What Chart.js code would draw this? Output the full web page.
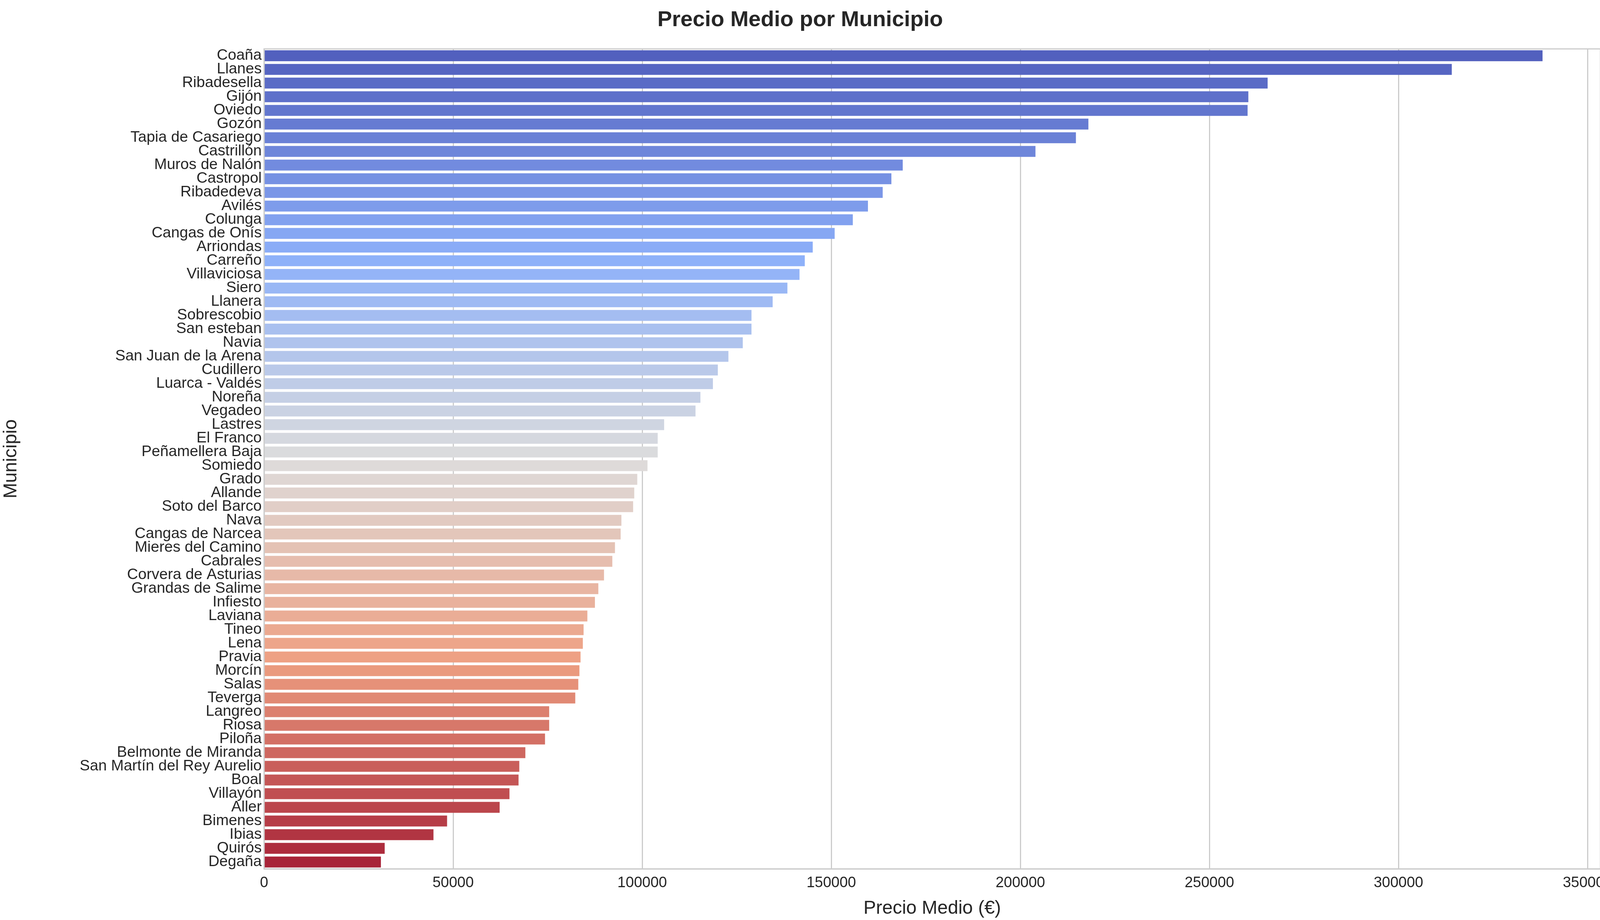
<!DOCTYPE html>
<html><head><meta charset="utf-8">
<script src="https://cdn.jsdelivr.net/npm/chart.js@4/dist/chart.umd.min.js"></script>
<style>body{margin:0;background:#fff}#w{width:4150px;height:2356px}</style>
</head><body><div id="w"><canvas id="c"></canvas></div>
<script>
const municipios=["Coaña","Llanes","Ribadesella","Gijón","Oviedo","Gozón","Tapia de Casariego","Castrillón","Muros de Nalón","Castropol","Ribadedeva","Avilés","Colunga","Cangas de Onís","Arriondas","Carreño","Villaviciosa","Siero","Llanera","Sobrescobio","San esteban","Navia","San Juan de la Arena","Cudillero","Luarca - Valdés","Noreña","Vegadeo","Lastres","El Franco","Peñamellera Baja","Somiedo","Grado","Allande","Soto del Barco","Nava","Cangas de Narcea","Mieres del Camino","Cabrales","Corvera de Asturias","Grandas de Salime","Infiesto","Laviana","Tineo","Lena","Pravia","Morcín","Salas","Teverga","Langreo","Riosa","Piloña","Belmonte de Miranda","San Martín del Rey Aurelio","Boal","Villayón","Aller","Bimenes","Ibias","Quirós","Degaña"];
const precios=[338100,314100,265400,260300,260100,218000,214700,204000,168900,165900,163600,159700,155700,150900,145100,143000,141600,138400,134500,128900,128900,126600,122800,120000,118700,115400,114100,105800,104100,104100,101400,98700,97900,97600,94500,94300,92800,92100,89900,88400,87500,85500,84500,84300,83700,83400,83100,82300,75400,75400,74300,69100,67500,67300,64900,62300,48400,44800,31900,30900];
const xTicks=[0,50000,100000,150000,200000,250000,300000,350000];
const stops=[[0,[82,96,190]],[0.25,[141,176,250]],[0.5,[221,220,220]],[0.75,[238,160,130]],[1,[168,36,56]]];
function cw(t){for(let i=1;i<stops.length;i++){if(t<=stops[i][0]){const a=stops[i-1],b=stops[i],f=(t-a[0])/(b[0]-a[0]);return 'rgb('+a[1].map((v,k)=>Math.round(v+(b[1][k]-v)*f)).join(',')+')';}}}
const colors=precios.map((_,i)=>cw(i/(precios.length-1)));
const F='"Liberation Sans", Arial, sans-serif';
new Chart(document.getElementById('c'),{type:'bar',
data:{labels:municipios,datasets:[{data:precios,backgroundColor:colors,categoryPercentage:0.8,barPercentage:1}]},
options:{indexAxis:'y',responsive:true,maintainAspectRatio:false,devicePixelRatio:1,animation:false,
layout:{padding:{top:18,right:53,bottom:0,left:0}},
plugins:{legend:{display:false},tooltip:{enabled:false},
title:{display:true,text:'Precio Medio por Municipio',color:'#262626',font:{family:F,size:56,weight:'bold'},padding:{top:0,bottom:40}}},
scales:{
x:{min:0,max:353400,afterBuildTicks:a=>{a.ticks=xTicks.map(v=>({value:v}));},
afterFit:s=>{s.height=131;},
ticks:{color:'#262626',font:{family:F,size:38},callback:v=>String(v),padding:14},
grid:{color:'#cccccc',lineWidth:3,drawTicks:false},border:{color:'#cccccc',width:3},
title:{display:true,text:'Precio Medio (€)',color:'#262626',font:{family:F,size:48},padding:{top:8,bottom:0}}},
y:{afterFit:s=>{s.width=676;},
ticks:{color:'#262626',font:{family:F,size:39},autoSkip:false,padding:6},
grid:{display:false,drawTicks:false},border:{color:'#cccccc',width:3},
title:{display:true,text:'Municipio',color:'#262626',font:{family:F,size:48},padding:{top:0,bottom:0}}}
}},
plugins:[{id:'frame',afterDraw(c){const a=c.chartArea,x=c.ctx;x.save();x.strokeStyle='#cccccc';x.lineWidth=3;x.strokeRect(a.left,a.top,a.right-a.left,a.bottom-a.top);x.restore();}}]
});
</script></body></html>
